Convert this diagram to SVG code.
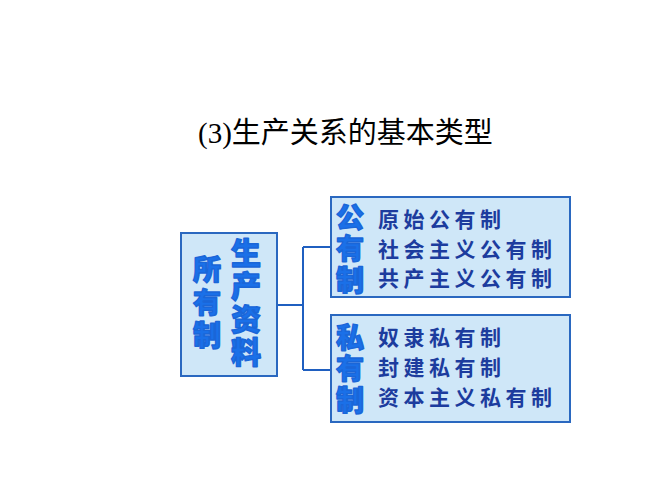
<svg xmlns="http://www.w3.org/2000/svg" width="667" height="500" viewBox="0 0 667 500">
<style>
.box{fill:#cfe7f8;stroke:#2a68c0;stroke-width:2}
.big{font-family:"Noto Sans CJK SC","Noto Sans CJK JP",sans-serif;font-weight:900;fill:#1a70e8;stroke:#1a66d8;stroke-width:1.4;stroke-linejoin:round;writing-mode:vertical-rl;text-anchor:start}
.item{font-family:"Noto Sans CJK SC","Noto Sans CJK JP",sans-serif;font-weight:700;fill:#1c3c9e;font-size:21px;letter-spacing:4.5px}
.title{font-family:"Liberation Serif","Noto Sans CJK SC",serif;font-size:29px;fill:#000}
.conn{fill:none;stroke:#1f5fc0;stroke-width:2}
</style>
<rect width="667" height="500" fill="#fff"/>
<text class="title" x="198" y="143">(3)<tspan font-family="Noto Sans CJK SC, sans-serif" font-size="29">生产关系的基本类型</tspan></text>
<g id="connectors">
<path class="conn" d="M277,305 H303 M303,247 V370 M303,247 H331 M303,370 H331"/>
</g>
<g id="root">
<rect class="box" x="181" y="233" width="96" height="143"/>
<text class="big" x="207" y="255" font-size="28" letter-spacing="5">所有制</text>
<text class="big" x="246" y="238" font-size="30" letter-spacing="3">生产资料</text>
</g>
<g id="public">
<rect class="box" x="331" y="197" width="239" height="100"/>
<text class="big" x="350" y="203" font-size="28" letter-spacing="3.5">公有制</text>
<text class="item"><tspan x="378" y="227">原始公有制</tspan><tspan x="378" y="257">社会主义公有制</tspan><tspan x="378" y="286">共产主义公有制</tspan></text>
</g>
<g id="private">
<rect class="box" x="331" y="315" width="239" height="107"/>
<text class="big" x="350" y="323" font-size="28" letter-spacing="3.5">私有制</text>
<text class="item"><tspan x="378" y="345">奴隶私有制</tspan><tspan x="378" y="375">封建私有制</tspan><tspan x="378" y="405">资本主义私有制</tspan></text>
</g>
</svg>
